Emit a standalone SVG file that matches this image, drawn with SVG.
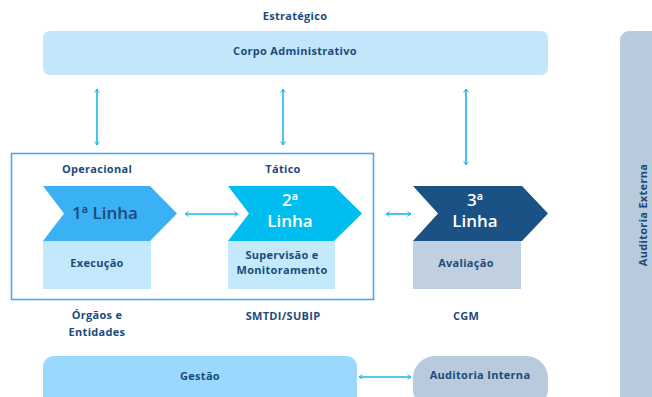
<svg xmlns="http://www.w3.org/2000/svg" width="652" height="397" viewBox="0 0 652 397">
<defs>
<style>
text{font-family:"Open Sans","DejaVu Sans",sans-serif;font-weight:bold;fill:#1B4B7B;text-anchor:middle}
.s{font-size:11px;letter-spacing:0.3px}
.b{font-size:17px;font-weight:600}
.w{fill:#fff}
.c{stroke:#1CB5EC;stroke-width:1.6;fill:none;marker-start:url(#a);marker-end:url(#a)}
</style>
<marker id="a" viewBox="0 0 10 10" refX="8" refY="5" markerWidth="6" markerHeight="6" orient="auto-start-reverse" markerUnits="userSpaceOnUse">
<path d="M2,1 L8,5 L2,9" fill="none" stroke="#1CB5EC" stroke-width="1.6"/>
</marker>
</defs>
<text class="s" x="295" y="20">Estratégico</text>
<g id="corpo"><rect x="43" y="31" width="505" height="44" rx="7" fill="#C3E6FB"/><text class="s" x="295" y="55">Corpo Administrativo</text></g>
<g id="externa"><rect x="620" y="31" width="45" height="380" rx="9" fill="#B8CBDD"/><text class="s" transform="translate(647,215) rotate(-90)">Auditoria Externa</text></g>
<g id="frame"><rect x="11.5" y="153.5" width="362" height="146" fill="none" stroke="#4AA9E9" stroke-width="1.6"/></g>
<text class="s" x="97" y="173">Operacional</text>
<text class="s" x="283" y="173">Tático</text>
<g id="linha1"><path d="M43,186 L150,186 L177,213.5 L150,241 L43,241 L64,213.5 Z" fill="#3AB0F5"/><text class="b" x="105" y="219">1ª Linha</text></g>
<g id="execucao"><rect x="43" y="241" width="108" height="48" fill="#C3E7FB"/><text class="s" x="97" y="267">Execução</text></g>
<g id="linha2"><path d="M228,186 L334,186 L362,213.5 L334,241 L228,241 L249,213.5 Z" fill="#00BDF0"/><text class="b w" x="290" y="206">2ª</text><text class="b w" x="290" y="227">Linha</text></g>
<g id="supervisao"><rect x="228" y="241" width="107" height="48" fill="#C3E9FA"/><text class="s" x="282" y="259">Supervisão e</text><text class="s" x="282" y="274">Monitoramento</text></g>
<g id="linha3"><path d="M413,186 L522,186 L548,213.5 L522,241 L413,241 L438,213.5 Z" fill="#1A5286"/><text class="b w" x="475" y="206">3ª</text><text class="b w" x="475" y="227">Linha</text></g>
<g id="avaliacao"><rect x="413" y="241" width="108" height="48" fill="#C0D0E0"/><text class="s" x="466" y="267">Avaliação</text></g>
<text class="s" x="97" y="319">Órgãos e</text>
<text class="s" x="97" y="336">Entidades</text>
<text class="s" x="283" y="320">SMTDI/SUBIP</text>
<text class="s" x="466" y="320">CGM</text>
<g id="gestao"><rect x="43" y="356" width="314" height="55" rx="11" fill="#9AD8FD"/><text class="s" x="200" y="380">Gestão</text></g>
<g id="interna"><rect x="413" y="356" width="135" height="55" rx="22" fill="#B8CADC"/><text class="s" x="480" y="379">Auditoria Interna</text></g>
<g id="connectors">
<line class="c" x1="97" y1="89" x2="97" y2="145"/>
<line class="c" x1="283" y1="89" x2="283" y2="145"/>
<line class="c" x1="466" y1="89" x2="466" y2="165"/>
<line class="c" x1="185" y1="214" x2="238" y2="214"/>
<line class="c" x1="386" y1="214" x2="411" y2="214"/>
<line class="c" x1="359" y1="377" x2="411" y2="377"/>
</g>
</svg>
